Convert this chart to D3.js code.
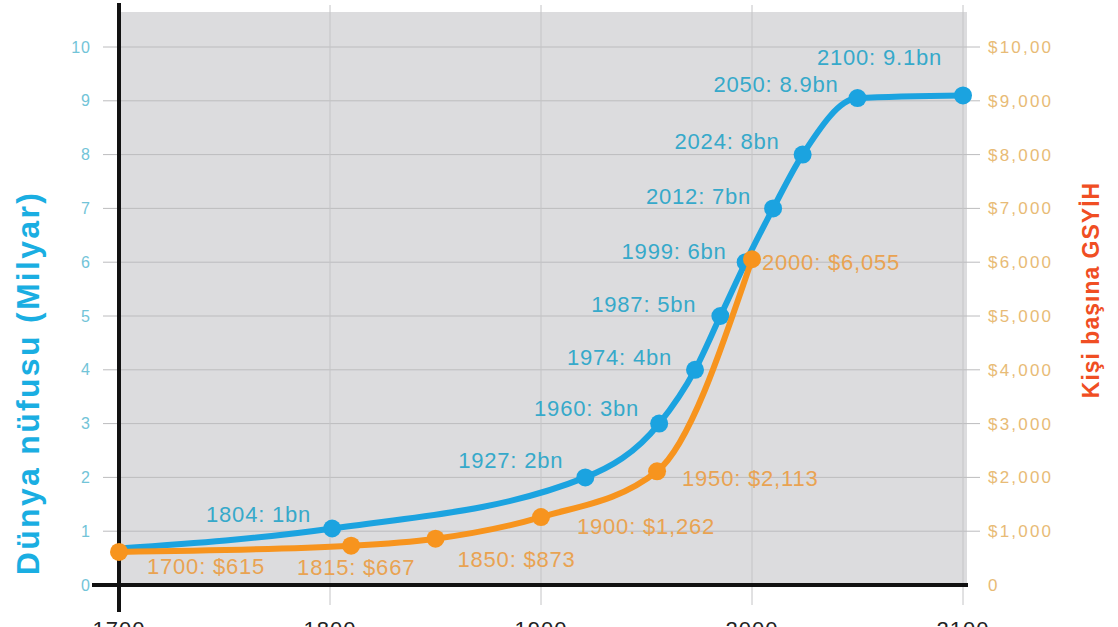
<!DOCTYPE html>
<html>
<head>
<meta charset="utf-8">
<script src="https://cdn.jsdelivr.net/npm/d3@7"></script>
<style>
    body { margin: 0; background: #fff; }
    text { font-family: "Liberation Sans", Arial, sans-serif; }
</style>
</head>
<body>
<svg id="chart"></svg>
<script>
// population (billions) - years as placed on the picture
let popYears = [1700, 1801, 1921, 1956, 1973, 1985, 1997, 2010, 2024, 2050, 2100];
let popValues = [0.68, 1.05, 2, 3, 4, 5, 6, 7, 8, 9.05, 9.1];
let popLabels = ["", "1804: 1bn", "1927: 2bn", "1960: 3bn", "1974: 4bn", "1987: 5bn",
    "1999: 6bn", "2012: 7bn", "2024: 8bn", "2050: 8.9bn", "2100: 9.1bn"];

// GDP per capita ($)
let gdpYears = [1700, 1810, 1850, 1900, 1955, 2000];
let gdpValues = [615, 730, 860, 1262, 2113, 6055];
let gdpLabels = ["1700: $615", "1815: $667", "1850: $873", "1900: $1,262", "1950: $2,113", "2000: $6,055"];

let xTicks = [1700, 1800, 1900, 2000, 2100];
let leftTicks = [0, 1, 2, 3, 4, 5, 6, 7, 8, 9, 10];
let rightTicks = [0, 1000, 2000, 3000, 4000, 5000, 6000, 7000, 8000, 9000, 10000];
let rightTickLabels = ["0", "$1,000", "$2,000", "$3,000", "$4,000", "$5,000",
    "$6,000", "$7,000", "$8,000", "$9,000", "$10,00"];

// label placement relative to each point (dx, dy)
let popLabelPos = [null, [-21, -7], [-22, -9], [-20, -8], [-23, -5], [-24, -4],
    [-19, -3], [-22, -4], [-23, -6], [-19, -6], [-21, -30]];
let gdpLabelPos = [[28, 22], [-54, 29], [22, 28], [36, 17], [25, 15], [10, 11]];

const W = 1118, H = 627;
const BLUE = '#1ba3e0', ORANGE = '#f7941e';

let svg = d3.select('#chart').attr('width', W).attr('height', H);

let scX = d3.scaleLinear().domain([1700, 2100]).range([119, 963]);
let scY = d3.scaleLinear().domain([0, 10]).range([585, 47]);
let scY2 = d3.scaleLinear().domain([0, 10000]).range([585, 47]);

// plot background
svg.append('rect')
    .attr('x', scX(1700)).attr('y', 12)
    .attr('width', 967 - scX(1700)).attr('height', scY(0) - 12)
    .attr('fill', '#dcdcde');

// horizontal grid lines
svg.selectAll('line.hgrid')
    .data(leftTicks.slice(1)).enter().append('line')
    .attr('class', 'hgrid')
    .attr('x1', 103).attr('x2', 980)
    .attr('y1', d => scY(d)).attr('y2', d => scY(d))
    .attr('stroke', '#bcbcbe').attr('stroke-width', 1);

// vertical grid lines
svg.selectAll('line.vgrid')
    .data(xTicks.slice(1)).enter().append('line')
    .attr('class', 'vgrid')
    .attr('x1', d => scX(d)).attr('x2', d => scX(d))
    .attr('y1', 5).attr('y2', 605)
    .attr('stroke', '#c4c4c6').attr('stroke-width', 1);

// black axes
svg.append('line')
    .attr('x1', scX(1700)).attr('x2', scX(1700))
    .attr('y1', 3).attr('y2', 612)
    .attr('stroke', '#111').attr('stroke-width', 4);
svg.append('line')
    .attr('x1', 92).attr('x2', 968)
    .attr('y1', scY(0)).attr('y2', scY(0))
    .attr('stroke', '#111').attr('stroke-width', 4);

// left tick labels
svg.selectAll('text.ltick')
    .data(leftTicks).enter().append('text')
    .attr('class', 'ltick')
    .attr('x', 91).attr('y', d => scY(d)).attr('dy', '0.35em')
    .attr('text-anchor', 'end')
    .attr('font-size', 16).attr('letter-spacing', 1)
    .attr('fill', '#72c4d8')
    .text(d => d);

// right tick labels
svg.selectAll('text.rtick')
    .data(rightTicks).enter().append('text')
    .attr('class', 'rtick')
    .attr('x', 988).attr('y', d => scY2(d)).attr('dy', '0.35em')
    .attr('font-size', 17).attr('letter-spacing', 2.2)
    .attr('fill', '#e8bb76')
    .text((d, i) => rightTickLabels[i]);

// bottom labels (cut by page edge, as in the original)
svg.selectAll('text.xtick')
    .data(xTicks).enter().append('text')
    .attr('class', 'xtick')
    .attr('x', d => scX(d)).attr('y', 637)
    .attr('text-anchor', 'middle')
    .attr('font-size', 22).attr('letter-spacing', 1)
    .attr('fill', '#222')
    .text(d => d);

// axis titles
svg.append('text')
    .attr('transform', 'translate(28,383) rotate(-90)')
    .attr('text-anchor', 'middle').attr('dy', '0.35em')
    .attr('font-size', 32).attr('font-weight', 'bold').attr('letter-spacing', 2.3)
    .attr('fill', '#1aaee2')
    .text('Dünya nüfusu  (Milyar)');

svg.append('text')
    .attr('transform', 'translate(1091,290) rotate(-90)')
    .attr('text-anchor', 'middle').attr('dy', '0.35em')
    .attr('font-size', 23).attr('font-weight', 'bold').attr('letter-spacing', 1)
    .attr('fill', '#f04e23')
    .text('Kişi başına GSYİH');

let popData = popYears.map((y, i) => ({ year: y, value: popValues[i], label: popLabels[i], pos: popLabelPos[i] }));
let gdpData = gdpYears.map((y, i) => ({ year: y, value: gdpValues[i], label: gdpLabels[i], pos: gdpLabelPos[i] }));

let popLine = d3.line()
    .x(d => scX(d.year)).y(d => scY(d.value))
    .curve(d3.curveMonotoneX);
let gdpLine = d3.line()
    .x(d => scX(d.year)).y(d => scY2(d.value))
    .curve(d3.curveMonotoneX);

// population line
svg.append('path')
    .datum(popData)
    .attr('d', popLine)
    .attr('fill', 'none').attr('stroke', BLUE).attr('stroke-width', 6)
    .attr('stroke-linecap', 'round');

svg.selectAll('circle.pop')
    .data(popData.slice(1)).enter().append('circle')
    .attr('class', 'pop')
    .attr('cx', d => scX(d.year)).attr('cy', d => scY(d.value))
    .attr('r', 9).attr('fill', BLUE);

svg.selectAll('text.poplab')
    .data(popData.slice(1)).enter().append('text')
    .attr('class', 'poplab')
    .attr('x', d => scX(d.year) + d.pos[0])
    .attr('y', d => scY(d.value) + d.pos[1])
    .attr('text-anchor', 'end')
    .attr('font-size', 22).attr('letter-spacing', 0.8)
    .attr('fill', '#36a9ca')
    .text(d => d.label);

// GDP line
svg.append('path')
    .datum(gdpData)
    .attr('d', gdpLine)
    .attr('fill', 'none').attr('stroke', ORANGE).attr('stroke-width', 6)
    .attr('stroke-linecap', 'round');

svg.selectAll('circle.gdp')
    .data(gdpData).enter().append('circle')
    .attr('class', 'gdp')
    .attr('cx', d => scX(d.year)).attr('cy', d => scY2(d.value))
    .attr('r', 9).attr('fill', ORANGE);

svg.selectAll('text.gdplab')
    .data(gdpData).enter().append('text')
    .attr('class', 'gdplab')
    .attr('x', d => scX(d.year) + d.pos[0])
    .attr('y', d => scY2(d.value) + d.pos[1])
    .attr('font-size', 22).attr('letter-spacing', 0.8)
    .attr('fill', '#e9a352')
    .text(d => d.label);
</script>
</body>
</html>
